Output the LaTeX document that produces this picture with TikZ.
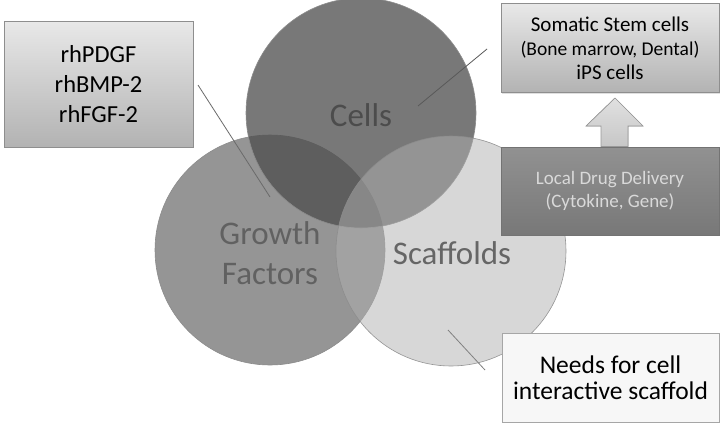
\documentclass[tikz,border=0pt]{standalone}
\usepackage{fontspec}
\setmainfont{Carlito}
\usetikzlibrary{shadows}
\definecolor{gfcol}{HTML}{959595}
\definecolor{cellcol}{HTML}{4E4E4E}
\definecolor{scafcol}{HTML}{B0B0B0}
\definecolor{linecol}{HTML}{6A6A6A}
\definecolor{boxline}{HTML}{8E8E8E}
\tikzset{
  circ/.style={circle, minimum size=230pt, inner sep=0pt, draw=black!45, line width=0.6pt},
  biglabel/.style={font=\fontsize{33}{40}\selectfont, align=center, inner sep=0pt},
  greybox/.style={draw=boxline, line width=0.7pt, top color=black!9, bottom color=black!30, align=center, inner sep=0pt,
    drop shadow={shadow xshift=1.2pt, shadow yshift=-1.2pt, opacity=0.25}},
  darkbox/.style={draw=black!55, line width=0.7pt, top color=black!43, bottom color=black!53, align=center, inner sep=0pt, text=black!15,
    drop shadow={shadow xshift=1.2pt, shadow yshift=-1.2pt, opacity=0.25}},
  lightbox/.style={draw=black!35, line width=0.7pt, fill=black!3, align=center, inner sep=0pt,
    drop shadow={shadow xshift=1.2pt, shadow yshift=-1.2pt, opacity=0.2}},
  conn/.style={draw=linecol, line width=0.8pt},
}
\begin{document}
\begin{tikzpicture}[x=1pt,y=-1pt]
\useasboundingbox (0,0) rectangle (722,424);
\fill[white] (0,0) rectangle (722,424);

% circles
\node[circ, fill=gfcol] (gf) at (270,250) {};
\node[circ, fill=cellcol, fill opacity=0.76] (cells) at (361,113) {};
\node[circ, fill=scafcol, fill opacity=0.5, draw opacity=0.9] (scaf) at (451,251) {};
\path[clip] (0,0) rectangle (722,424);

% circle labels
\node[biglabel, text=black!70] (cellslab) at (361,115) {Cells};
\node[biglabel, text=black!62] (gflab) at (270,253) {Growth\\Factors};
\node[biglabel, text=black!60] (scaflab) at (452,253) {Scaffolds};

% boxes
\node[greybox, minimum width=189pt, minimum height=126pt,
      font=\fontsize{24.5}{30}\selectfont] (pdgf) at (98.5,84) {rhPDGF\\rhBMP-2\\rhFGF-2};
\node[greybox, minimum width=218pt, minimum height=89pt,
      font=\fontsize{21}{24}\selectfont] (stem) at (610,48)
      {Somatic Stem cells\\{\fontsize{19.5}{24}\selectfont (Bone marrow, Dental)}\\iPS cells};
\node[darkbox, minimum width=218pt, minimum height=88pt,
      font=\fontsize{19}{22.5}\selectfont] (ldd) at (610,191) {Local Drug Delivery\\(Cytokine, Gene)};
\node[lightbox, minimum width=217pt, minimum height=89pt,
      font=\fontsize{25.5}{26}\selectfont] (needs) at (610.5,377.5) {Needs for cell\\interactive scaffold};

% block arrow from Local Drug Delivery up to stem cells
\coordinate (arrtip) at (615,98);
\filldraw[draw=black!40, line width=0.7pt, top color=black!12, bottom color=black!22]
  (arrtip) -- (643,126) -- (628,126) -- (628,146.5) -- (601,146.5) -- (601,126) -- (586,126) -- cycle;

% connectors
\coordinate (c1) at (198,85);
\coordinate (c1e) at (270,197);
\draw[conn] (c1) -- (c1e);
\coordinate (c2) at (418,106);
\coordinate (c2e) at (487,49);
\draw[conn, draw=black!65] (c2) -- (c2e);
\coordinate (c3) at (448,330);
\coordinate (c3e) at (485,370);
\draw[conn, draw=black!50] (c3) -- (c3e);
\end{tikzpicture}
\end{document}
